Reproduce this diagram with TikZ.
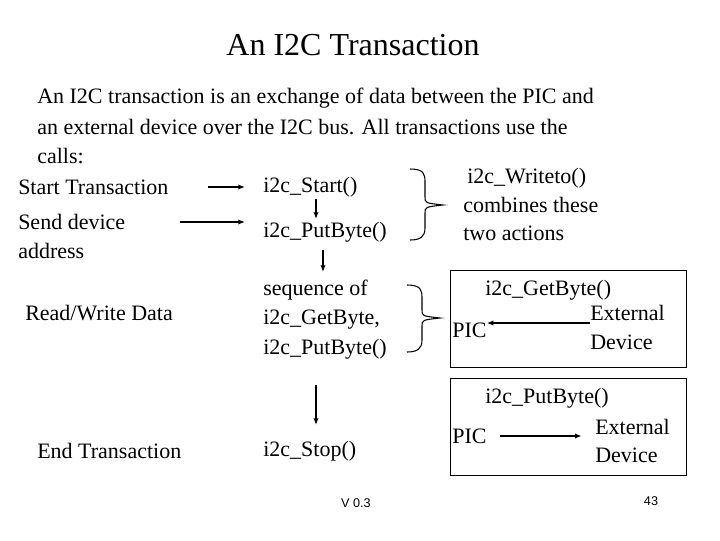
\documentclass[tikz,border=0pt]{standalone}
\usepackage{fontspec}
\setmainfont{Liberation Serif}
\newfontfamily\sansf{Liberation Sans}
\begin{document}
\begin{tikzpicture}[x=0.75pt,y=-0.75pt,
  t/.style={anchor=west,inner sep=0pt,font=\fontsize{16.5}{18}\selectfont},
  arr/.style={-{Latex[length=5pt,width=4pt]},line width=1pt},
  box/.style={draw,line width=0.4pt},
  br/.style={line width=0.8pt}]
\usetikzlibrary{arrows.meta}
\useasboundingbox (0,0) rectangle (720,540);
\node[inner sep=0pt,font=\fontsize{24}{28}\selectfont] (title) at (353,45) {An I2C Transaction};
\node[t] (p1) at (37,98) {An I2C transaction is an exchange of data between the PIC and};
\node[t] (p2) at (37,127) {an external device over the I2C bus. All transactions use the};
\node[t] (p3) at (37,156) {calls:};
\node[t] (st) at (18,187) {Start Transaction};
\node[t] (sd) at (18,222) {Send device};
\node[t] (ad) at (18,251) {address};
\node[t] (rw) at (25,313) {Read/Write Data};
\node[t] (et) at (37,451) {End Transaction};
\node[t] (s1) at (263,187) {i2c\_Start()};
\node[t] (s2) at (263,232) {i2c\_PutByte()};
\node[t] (q1) at (263,290) {sequence of};
\node[t] (q2) at (263,320) {i2c\_GetByte,};
\node[t] (q3) at (263,349) {i2c\_PutByte()};
\node[t] (sp) at (263,451) {i2c\_Stop()};
\node[t] (w1) at (467,178) {i2c\_Writeto()};
\node[t] (w2) at (463,205) {combines these};
\node[t] (w3) at (463,233) {two actions};
% arrows left
\coordinate (a1s) at (208,187); \coordinate (a1e) at (245,187);
\draw[arr] (a1s) -- (a1e);
\coordinate (a2s) at (180,222); \coordinate (a2e) at (245,222);
\draw[arr] (a2s) -- (a2e);
\coordinate (d1s) at (316,199); \coordinate (d1e) at (316,219);
\draw[arr] (d1s) -- (d1e);
\coordinate (d2s) at (323,250); \coordinate (d2e) at (323,272);
\draw[arr] (d2s) -- (d2e);
\coordinate (d3s) at (316,385); \coordinate (d3e) at (316,425);
\draw[arr] (d3s) -- (d3e);
% braces
\draw[br] (410,169) .. controls (424,169) and (425,174) .. (425,182) -- (425,197)
  .. controls (425,203) .. (443,205) .. controls (425,207) .. (425,213) -- (425,228)
  .. controls (425,237) and (420,240) .. (410,240);
\draw[br] (407,285) .. controls (421,285) and (422,290) .. (422,298) -- (422,310)
  .. controls (422,316) .. (440,318) .. controls (422,320) .. (422,326) -- (422,340)
  .. controls (422,349) and (417,352) .. (407,352);
% boxes
\node[box,minimum width=236*0.75pt,minimum height=97*0.75pt,anchor=north west] (b1) at (450,270) {};
\node[box,minimum width=236*0.75pt,minimum height=97*0.75pt,anchor=north west] (b2) at (450,378) {};
\node[t] (g0) at (485,290) {i2c\_GetByte()};
\node[t] (g1) at (590,313) {External};
\node[t] (g2) at (590,342) {Device};
\node[t] (gp) at (452,330) {PIC};
\draw[arr] (g1.west |- 0,323) -- (gp.east |- 0,323);
\node[t] (h0) at (485,398) {i2c\_PutByte()};
\node[t] (h1) at (595,427) {External};
\node[t] (h2) at (595,455) {Device};
\node[t] (hp) at (452,436) {PIC};
\draw[arr] ([xshift=10pt]hp.east |- 0,436) -- ([xshift=-10pt]h1.west |- 0,436);
\node[inner sep=0pt,font=\sansf\fontsize{9.5}{11}\selectfont] (v) at (356,503) {V 0.3};
\node[inner sep=0pt,font=\sansf\fontsize{9.5}{11}\selectfont] (n) at (651,501) {43};
\end{tikzpicture}
\end{document}
